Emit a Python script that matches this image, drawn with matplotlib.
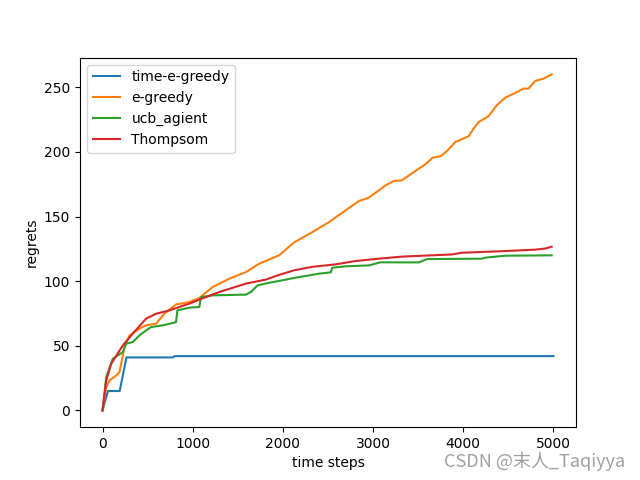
import matplotlib
matplotlib.use("Agg")
import matplotlib.pyplot as plt

# time-e-greedy
x_time = [0, 60, 190, 265, 780, 800, 5000]
y_time = [0, 15, 15, 41, 41, 42, 42]

# e-greedy
x_eg = [0, 41, 77, 152, 188, 243, 299, 409, 483, 594, 686, 815, 962, 1073, 1220, 1405,
        1589, 1736, 1958, 2124, 2308, 2511, 2695, 2842, 2953, 3064, 3138, 3229, 3318,
        3506, 3580, 3661, 3746, 3819, 3912, 4059, 4114, 4170, 4280, 4372, 4465, 4575,
        4667, 4723, 4797, 4889, 4980]
y_eg = [0, 18, 23.2, 27.1, 29.6, 49, 58, 63.2, 65.8, 67.1, 74.8, 82, 83.8, 87, 95.4, 101.9,
        107, 113.5, 120, 130, 137.2, 145.7, 154.8, 162, 164.6, 170.3, 174.1, 177.5, 178,
        187, 190.4, 195.6, 196.6, 200.7, 207.7, 212.1, 218, 223.1, 227.6, 236.1, 242, 245.6,
        249, 249, 254.9, 256.7, 260]

# ucb_agient
x_ucb = [0, 41, 114, 225, 262, 335, 409, 483, 539, 667, 815, 830, 962, 1073, 1092, 1217,
         1589, 1645, 1718, 1828, 1958, 2142, 2400, 2530, 2547, 2695, 2953, 3082, 3506,
         3598, 4206, 4244, 4465, 4980]
y_ucb = [0, 25.8, 40, 45.1, 51.6, 52.9, 58, 61.9, 64.5, 65.8, 68.3, 77.4, 79.5, 80, 87.7, 89,
         89.6, 91.6, 96.7, 98.5, 100.2, 102.7, 105.8, 106.8, 110.4, 111.5, 112.2, 114.6, 114.5,
         117.1, 117.4, 118.2, 119.7, 120]

# Thompsom
x_th = [0, 41, 96, 225, 335, 483, 594, 741, 962, 1073, 1294, 1589, 1810, 1958, 2124, 2326,
        2585, 2806, 3064, 3321, 3653, 3874, 3985, 4465, 4797, 4907, 4980]
y_th = [0, 23.2, 36.1, 50.3, 59.4, 71, 74.8, 77.4, 82.6, 85.7, 91.6, 98.1, 101.2, 104.9, 108.4,
        111.1, 113, 115.6, 117.4, 119, 120, 120.7, 122, 123.3, 124.4, 125.2, 126.7]

labels = ["time-e-greedy", "e-greedy", "ucb_agient", "Thompsom"]

fig, ax = plt.subplots(figsize=(6.4, 4.8), dpi=100)
ax.plot(x_time, y_time, label=labels[0])
ax.plot(x_eg, y_eg, label=labels[1])
ax.plot(x_ucb, y_ucb, label=labels[2])
ax.plot(x_th, y_th, label=labels[3])
ax.set_xlabel("time steps")
ax.set_ylabel("regrets")
ax.legend(loc="upper left")

fig.text(0.977, 0.04, "CSDN @末人_Taqiyya", ha="right", va="center", fontsize=13,
         color="#a0a0a0", family=["Noto Sans CJK SC", "DejaVu Sans"])

fig.savefig("out.png")
